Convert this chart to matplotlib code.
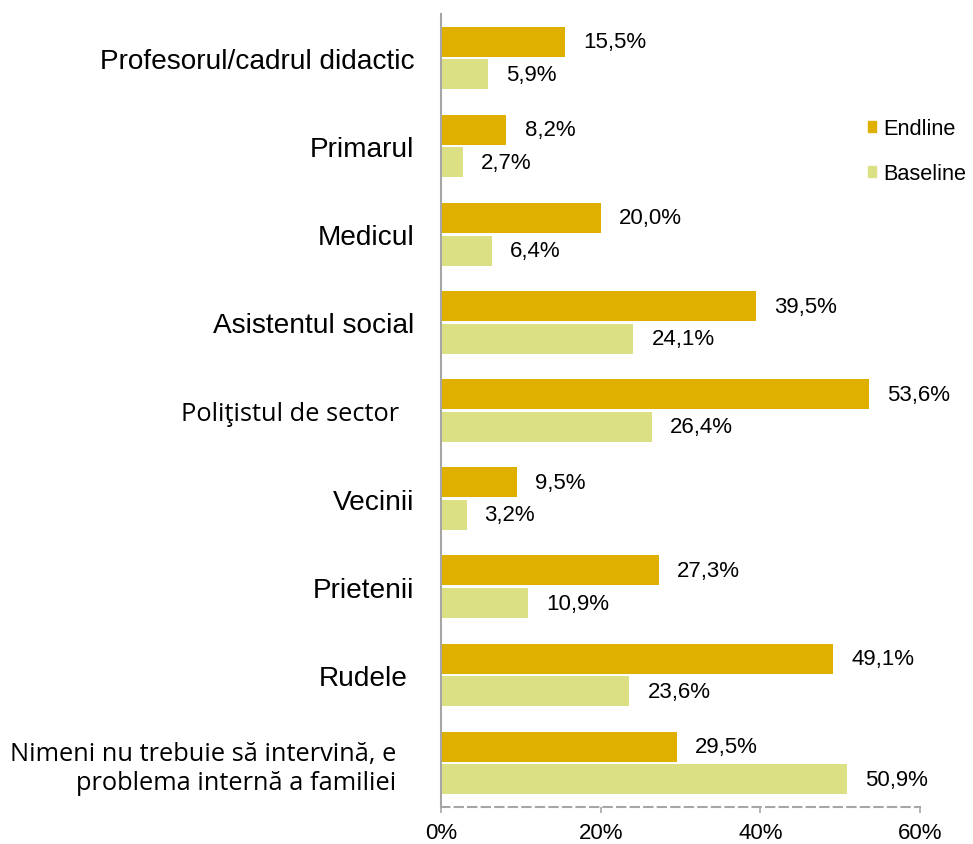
import matplotlib.pyplot as plt
import numpy as np
from matplotlib.patches import Patch

# data
categories = ["Profesorul/cadrul didactic", "Primarul", "Medicul",
              "Asistentul social", "Poliţistul de sector", "Vecinii",
              "Prietenii", "Rudele",
              "Nimeni nu trebuie să intervină, e\nproblema internă a familiei"]
endline = [15.5, 8.2, 20.0, 39.5, 53.6, 9.5, 27.3, 49.1, 29.5]
baseline = [5.9, 2.7, 6.4, 24.1, 26.4, 3.2, 10.9, 23.6, 50.9]
xticks = [0, 20, 40, 60]

END_COL = "#E0B000"
BASE_COL = "#DCE084"
GRID_COL = "#A6A6A6"

fig = plt.figure(figsize=(9.73, 8.45), dpi=100)
ax = fig.add_axes([441 / 973, 1 - 808 / 845, 479 / 973, 793 / 845])

y = np.arange(len(categories))
h = 0.34
ax.barh(y - 0.185, endline, height=h, color=END_COL, label="Endline")
ax.barh(y + 0.185, baseline, height=h, color=BASE_COL, label="Baseline")

for yi, v in zip(y - 0.185, endline):
    ax.annotate(f"{v:.1f}%".replace(".", ","), (v, yi), xytext=(13, 0),
                textcoords="offset points", va="center", ha="left",
                fontsize=16, family="Liberation Sans")
for yi, v in zip(y + 0.185, baseline):
    ax.annotate(f"{v:.1f}%".replace(".", ","), (v, yi), xytext=(13, 0),
                textcoords="offset points", va="center", ha="left",
                fontsize=16, family="Liberation Sans")

ax.set_xlim(0, 60)
ax.set_ylim(len(categories) - 0.5, -0.5)
ax.set_xticks(xticks)
ax.set_xticklabels([f"{t}%" for t in xticks], fontsize=16, family="Liberation Sans")
ax.set_yticks(y)
ax.set_yticklabels(categories, fontsize=20.2, family="Liberation Sans",
                   multialignment="right")

# two labels are in a different typeface in the original
for i in (4, 8):
    lab = ax.get_yticklabels()[i]
    lab.set_family("Open Sans")
    lab.set_fontsize(18.3)
pads = [19, 19, 19, 19, 30, 19, 19, 24, 32]
for tk, p in zip(ax.yaxis.get_major_ticks(), pads):
    tk.set_pad(p)

ax.tick_params(axis="y", length=0)
ax.tick_params(axis="x", length=4, width=1.2, color=GRID_COL, pad=7)
for s in ("top", "right"):
    ax.spines[s].set_visible(False)
ax.spines["left"].set_color(GRID_COL)
ax.spines["left"].set_linewidth(1.5)
ax.spines["bottom"].set_color(GRID_COL)
ax.spines["bottom"].set_linewidth(1.5)
ax.spines["bottom"].set_linestyle((0, (4, 2.5)))

handles = [Patch(color=END_COL), Patch(color=BASE_COL)]
fig.legend(handles, ["Endline", "Baseline"], loc="center left",
           bbox_to_anchor=(868 / 973, 1 - 152 / 845), frameon=False,
           prop={"family": "Liberation Sans", "size": 15.7},
           handlelength=0.38, handleheight=0.38, handletextpad=0.32,
           labelspacing=1.1, borderpad=0, borderaxespad=0)

fig.savefig("out.png", dpi=100)
